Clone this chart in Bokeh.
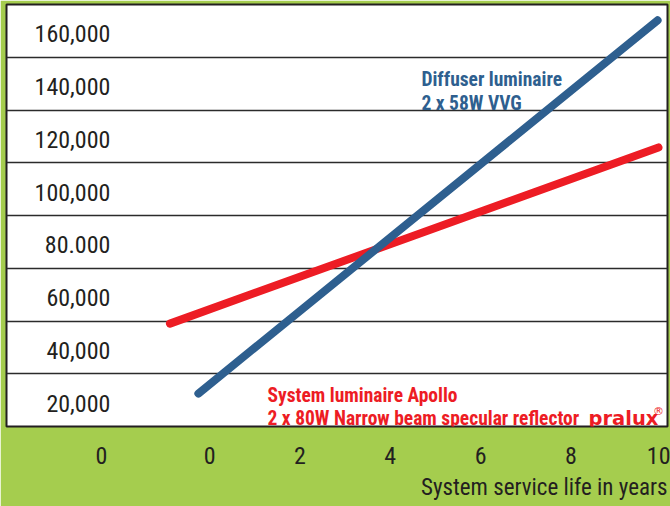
from bokeh.plotting import figure
from bokeh.models import FixedTicker, Label, Title, Range1d
from bokeh.embed import file_html
from bokeh.resources import INLINE

# ---- data ----
diffuser_years = [-0.25, 9.92]
diffuser_cost = [22500, 164000]
apollo_years = [-0.88, 9.94]
apollo_cost = [49000, 115800]

y_label_values = [20000, 40000, 60000, 80000, 100000, 120000, 140000, 160000]
y_label_texts = ["20,000", "40,000", "60,000", "80.000", "100,000", "120,000", "140,000", "160,000"]
grid_values = [30000, 50000, 70000, 90000, 110000, 130000, 150000]
x_tick_values = [-2.4, 0, 2, 4, 6, 8, 10]
x_tick_texts = ["0", "0", "2", "4", "6", "8", "10"]
x_title = "System service life in years"

GREEN = "#a5cd4e"
BLUE = "#2e5f8f"
RED = "#ed1c24"
DARK = "#231f20"
FONT = "Roboto Condensed"

p = figure(width=670, height=506, output_backend="svg", toolbar_location=None,
           x_range=Range1d(-4.5, 10.14), y_range=Range1d(10000, 170000),
           y_axis_location=None, min_border_left=6, min_border_right=3,
           min_border_top=4, min_border_bottom=80)
p.background_fill_color = "white"
p.border_fill_color = GREEN
p.outline_line_color = "#231f20"
p.outline_line_width = 2

p.xgrid.visible = False
p.ygrid.ticker = FixedTicker(ticks=grid_values)
p.ygrid.grid_line_color = "#2b2b2b"
p.ygrid.grid_line_width = 1.6

ax = p.xaxis[0]
ax.ticker = FixedTicker(ticks=x_tick_values)
ax.major_label_overrides = {v: t for v, t in zip(x_tick_values, x_tick_texts)}
ax.axis_line_color = None
ax.major_tick_line_color = None
ax.minor_tick_line_color = None
ax.major_label_text_font = FONT
ax.major_label_text_font_size = "24px"
ax.major_label_text_color = DARK
ax.major_label_standoff = 14

p.add_layout(Title(text=x_title, align="right", standoff=11,
                   text_font=FONT, text_font_size="23px", text_font_style="normal",
                   text_color=DARK), "below")

for v, t in zip(y_label_values, y_label_texts):
    p.add_layout(Label(x=-2.2, y=v, text=t, text_align="right", text_baseline="middle",
                       y_offset=-3, text_font=FONT, text_font_size="24px", text_color=DARK))

p.line(apollo_years, apollo_cost, line_color=RED, line_width=8, line_cap="round")
p.line(diffuser_years, diffuser_cost, line_color=BLUE, line_width=8, line_cap="round")

def lab(x, y, t, color, font=FONT, size="19.5px", style="bold"):
    p.add_layout(Label(x=x, y=y, text=t, text_align="left", text_baseline="alphabetic",
                       text_font=font, text_font_size=size, text_font_style=style,
                       text_color=color))

lab(4.69, 141560, "Diffuser luminaire", BLUE)
lab(4.69, 132460, "2 x 58W VVG", BLUE)
lab(1.28, 21750, "System luminaire Apollo", RED)
lab(1.28, 13030, "2 x 80W Narrow beam specular reflector", RED)
lab(8.39, 13030, "pralux", RED, font="DejaVu Sans", size="19.5px")
lab(9.82, 15700, "\u00ae", RED, font="DejaVu Sans", size="11px", style="normal")

html = file_html(p, INLINE)
html = html.replace("<body>", '<body style="margin:0;background-color:%s;">' % GREEN, 1)
open("out.html", "w").write(html)
